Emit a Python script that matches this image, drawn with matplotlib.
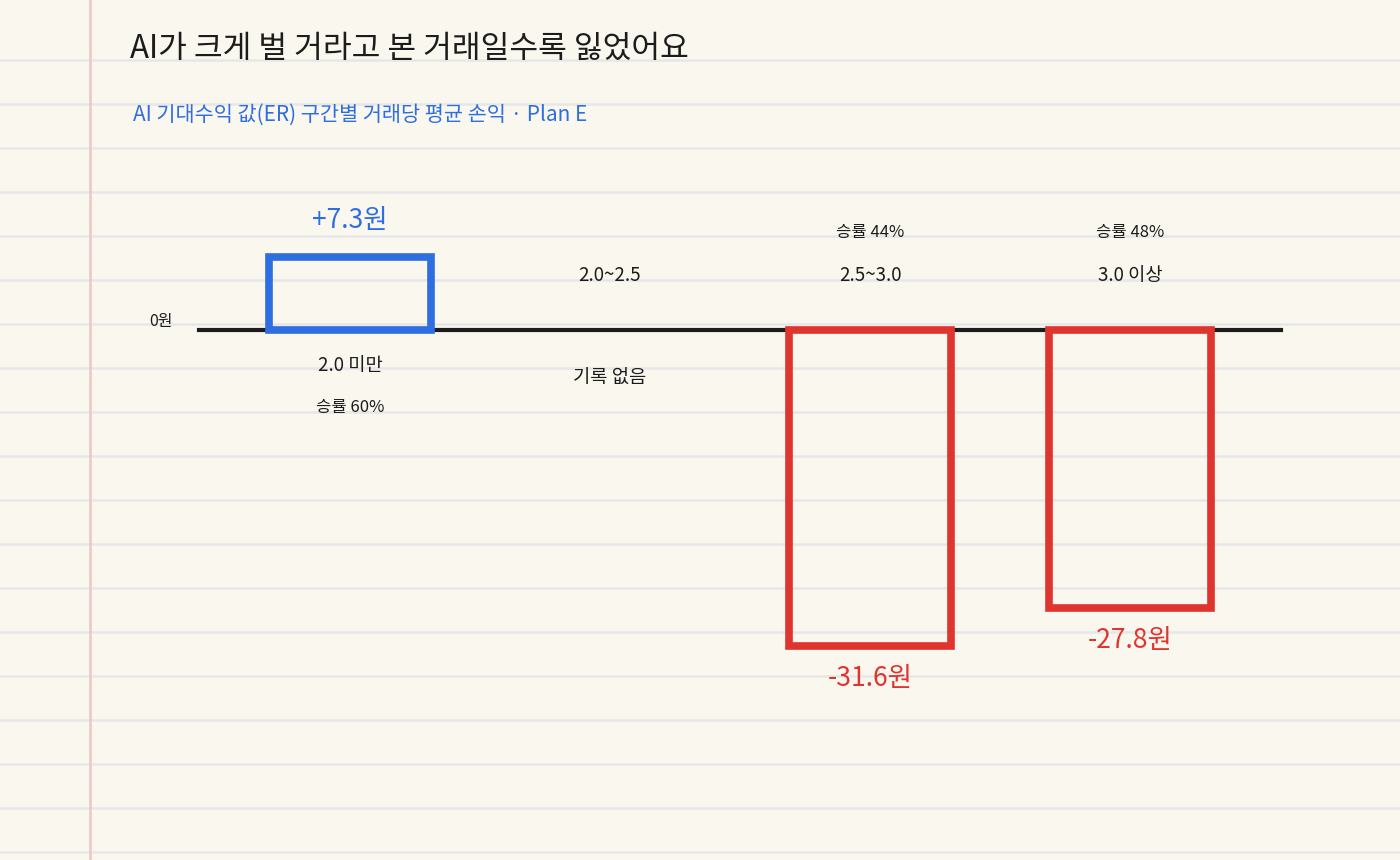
import numpy as np
import matplotlib.pyplot as plt
from matplotlib.patches import Rectangle

plt.rcParams['font.family'] = ['Noto Sans CJK KR', 'DejaVu Sans']

# Données : gain moyen par transaction selon la tranche d'ER
categories = ['2.0 미만', '2.0~2.5', '2.5~3.0', '3.0 이상']
avg_pnl = [7.3, None, -31.6, -27.8]
win_rate = ['승률 60%', None, '승률 44%', '승률 48%']
value_labels = ['+7.3원', None, '-31.6원', '-27.8원']
empty_label = '기록 없음'

title = 'AI가 크게 벌 거라고 본 거래일수록 잃었어요'
subtitle = 'AI 기대수익 값(ER) 구간별 거래당 평균 손익 · Plan E'

BG = '#faf7ef'
RULE = '#e5e7e8'
MARGIN = '#ecc7c4'
BLUE = '#2f6ee0'
RED = '#e0342e'
INK = '#1c1c1c'

fig = plt.figure(figsize=(14, 8.6), dpi=100)
fig.patch.set_facecolor(BG)

# Papier ligné (fond)
bg = fig.add_axes([0, 0, 1, 1])
bg.set_xlim(0, 1400)
bg.set_ylim(860, 0)
bg.axis('off')
for yy in np.arange(60, 860, 44):
    bg.axhline(yy, color=RULE, lw=1.8, zorder=0)
bg.axvline(90, color=MARGIN, lw=1.8, zorder=0)

bg.text(130, 49, title, fontsize=22.5, color=INK, va='center', ha='left')
bg.text(133, 115, subtitle, fontsize=15, color=BLUE, va='center', ha='left')

# Zone du graphique
ax = fig.add_axes([194 / 1400, 80 / 860, 1092 / 1400, 600 / 860])
ax.set_xlim(-0.6, 3.6)
ax.set_ylim(-45, 15)
ax.axis('off')
ax.patch.set_alpha(0)

ax.axhline(0, xmin=0.005, xmax=0.995, color=INK, lw=3, zorder=2)
ax.text(-0.68, 0.8, '0원', fontsize=11.5, color=INK, ha='right', va='center')

width = 0.62
for i, (cat, val) in enumerate(zip(categories, avg_pnl)):
    if val is None:
        ax.text(i, 5.4, cat, fontsize=13.5, color=INK, ha='center', va='center')
        ax.text(i, -4.8, empty_label, fontsize=13.5, color=INK, ha='center', va='center')
        continue
    color = BLUE if val > 0 else RED
    ax.add_patch(Rectangle((i - width / 2, 0), width, val, fill=False,
                           edgecolor=color, lw=5.5, joinstyle='miter', zorder=3))
    if val > 0:
        ax.text(i, val + 3.6, value_labels[i], fontsize=19, color=color,
                ha='center', va='center')
        ax.text(i, -3.6, cat, fontsize=13.5, color=INK, ha='center', va='center')
        ax.text(i, -7.8, win_rate[i], fontsize=12, color=INK, ha='center', va='center')
    else:
        ax.text(i, val - 3.2, value_labels[i], fontsize=19, color=color,
                ha='center', va='center')
        ax.text(i, 5.4, cat, fontsize=13.5, color=INK, ha='center', va='center')
        ax.text(i, 9.7, win_rate[i], fontsize=12, color=INK, ha='center', va='center')

fig.savefig('out.png', dpi=100, facecolor=BG)
